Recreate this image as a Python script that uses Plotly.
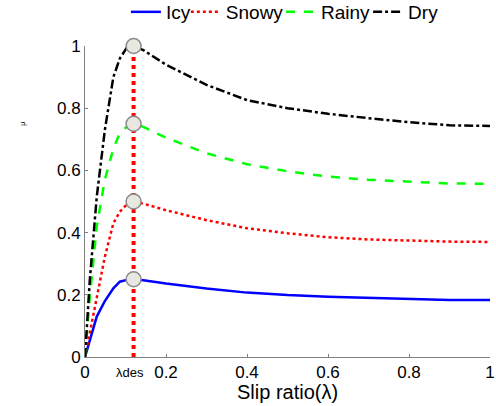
import plotly.graph_objects as go

slip = [0, 0.012, 0.029, 0.049, 0.07, 0.086, 0.103, 0.12, 0.144, 0.2, 0.3, 0.4, 0.5, 0.6, 0.7, 0.8, 0.9, 1.0]
icy = [0, 0.055, 0.13, 0.18, 0.221, 0.242, 0.248, 0.25, 0.247, 0.236, 0.22, 0.207, 0.199, 0.194, 0.19, 0.187, 0.183, 0.183]
snowy = [0, 0.08, 0.194, 0.322, 0.43, 0.467, 0.49, 0.5, 0.493, 0.472, 0.44, 0.414, 0.398, 0.385, 0.378, 0.374, 0.371, 0.37]
rainy = [0, 0.194, 0.42, 0.57, 0.67, 0.72, 0.74, 0.75, 0.74, 0.705, 0.655, 0.62, 0.597, 0.58, 0.57, 0.563, 0.558, 0.557]
dry = [0, 0.25, 0.515, 0.73, 0.90, 0.96, 0.994, 1.0, 0.987, 0.94, 0.875, 0.826, 0.80, 0.782, 0.768, 0.755, 0.745, 0.743]

lambda_des = 0.12
peaks = [0.25, 0.5, 0.75, 1.0]
xticks = [0, 0.2, 0.4, 0.6, 0.8, 1]
xticklabels = ["0", "0.2", "0.4", "0.6", "0.8", "1"]
yticks = [0, 0.2, 0.4, 0.6, 0.8, 1]
yticklabels = ["0", "0.2", "0.4", "0.6", "0.8", "1"]

series = [
    ("Icy", icy, "#0000ff", "solid"),
    ("Snowy", snowy, "#ff0000", "dot"),
    ("Rainy", rainy, "#00ff00", "dash"),
    ("Dry", dry, "#000000", "dashdot"),
]
legend_ids = ["legend", "legend2", "legend3", "legend4"]
legend_x = [0.101, 0.249, 0.484, 0.699]

fig = go.Figure()
for (name, vals, col, dash), lid in zip(series, legend_ids):
    fig.add_trace(go.Scatter(x=slip, y=vals, mode="lines", name=name, legend=lid,
                             line=dict(color=col, width=2.5, dash=dash), cliponaxis=False))

fig.add_trace(go.Scatter(x=[lambda_des, lambda_des], y=[0, max(peaks)], mode="lines",
                         line=dict(color="#ff0000", width=4, dash="dot"), showlegend=False,
                         cliponaxis=False))
fig.add_trace(go.Scatter(x=[lambda_des] * len(peaks), y=peaks, mode="markers",
                         marker=dict(size=15, color="#e8e8e0", line=dict(color="#8a8a8a", width=1.5)),
                         showlegend=False, cliponaxis=False))

fig.add_annotation(x=lambda_des, y=0, xref="x", yref="y", text="λdes", showarrow=False,
                   yanchor="middle", yshift=-15, xshift=-4, font=dict(size=13, color="#000000"))
fig.add_annotation(x=(17 - 85) / 405, y=0.75, xref="paper", yref="y", text="μ", showarrow=False,
                   textangle=-90, font=dict(size=7, color="#000000"))
fig.add_annotation(x=0.5, y=0, xref="paper", yref="paper", text="Slip ratio(λ)", showarrow=False,
                   yanchor="middle", yshift=-35, font=dict(size=20, color="#000000"))

legend_common = dict(orientation="h", xanchor="left", y=1 - 12 / 406, yanchor="middle",
                     yref="container", itemwidth=30, font=dict(size=19),
                     bgcolor="rgba(0,0,0,0)")

fig.update_layout(
    width=496, height=406,
    margin=dict(l=85, r=6, t=46, b=49, autoexpand=False),
    paper_bgcolor="white", plot_bgcolor="white",
    font=dict(family="Liberation Sans, Arial, sans-serif", size=17, color="#000000"),
    showlegend=True,
    legend=dict(x=legend_x[0], **legend_common),
    legend2=dict(x=legend_x[1], **legend_common),
    legend3=dict(x=legend_x[2], **legend_common),
    legend4=dict(x=legend_x[3], **legend_common),
    xaxis=dict(range=[0, 1], tickvals=xticks, ticktext=xticklabels, ticks="inside", ticklen=3,
               tickcolor="#808080", showline=True, linecolor="#808080", linewidth=1,
               showgrid=False, zeroline=False, automargin=False, ticklabeloverflow="allow"),
    yaxis=dict(range=[0, 1], tickvals=yticks, ticktext=yticklabels, ticks="inside", ticklen=3,
               tickcolor="#808080", showline=True, linecolor="#808080", linewidth=1,
               showgrid=False, zeroline=False, automargin=False, ticklabeloverflow="allow"),
)

fig.write_html("out.html", config={"displayModeBar": False},
               post_script="document.body.style.margin='0';")
